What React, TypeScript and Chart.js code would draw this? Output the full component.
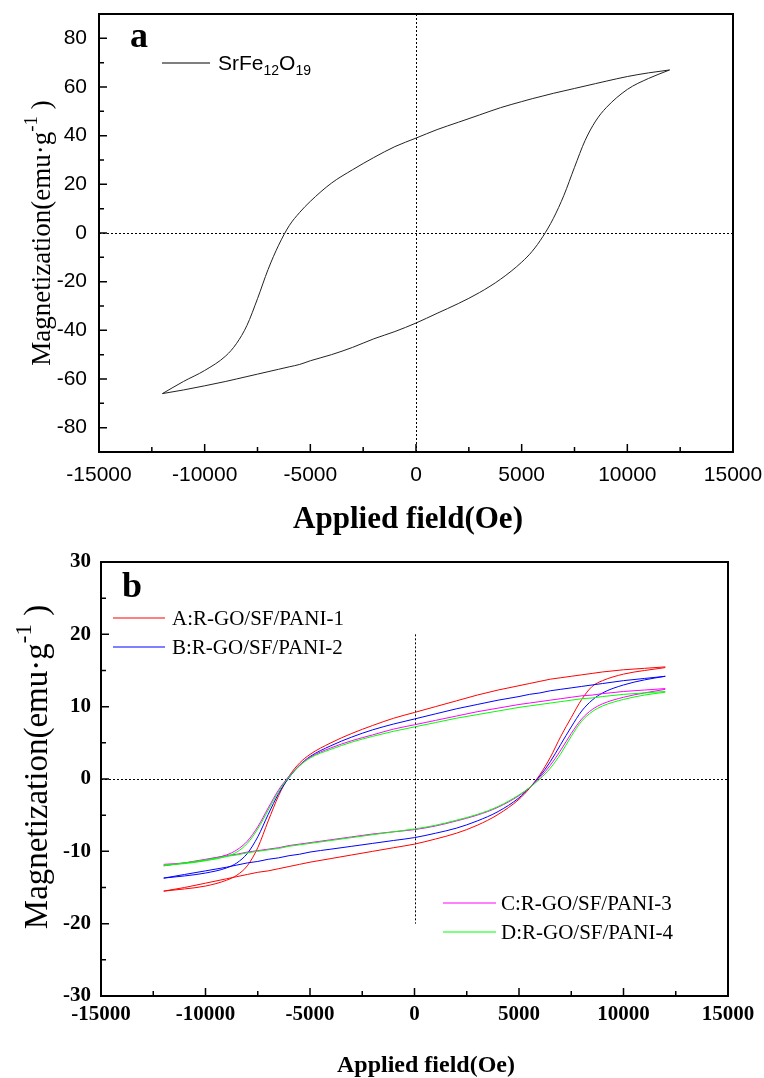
import React, { useEffect, useRef } from 'react';
import { Chart, registerables } from 'chart.js';

Chart.register(...registerables);

// ---------- Panel a : SrFe12O19 ----------
const fieldA = [-12000, -11000, -10000, -9000, -8500, -8000, -7500, -7000, -6500, -6000, -5500, -5000, -4000, -3000, -2000, -1000, 0, 1000, 2000, 3000, 4000, 5000, 5500, 6000, 6500, 7000, 7500, 8000, 8500, 9000, 10000, 11000, 12000];
const srfeUpper = [-66, -61, -56.5, -50.5, -45.5, -38, -27, -15, -5, 3, 8.5, 13, 20.5, 26, 31, 35.5, 39, 42.5, 45.5, 48.5, 51.5, 54, 55.2, 56.3, 57.4, 58.4, 59.4, 60.4, 61.4, 62.4, 64.3, 65.8, 67];
const srfeLower = [-66, -64.5, -62.8, -61, -60, -59, -58, -57, -56, -55, -54, -52.5, -50, -47, -43.5, -40.5, -37, -33, -29, -24.5, -19, -12, -7.5, -1.5, 6, 15.5, 27, 38, 46, 51.5, 59, 63.5, 67];

// ---------- Panel b : R-GO/SF/PANI ----------
const fieldB = [-12000, -11000, -10000, -9000, -8500, -8000, -7500, -7000, -6500, -6000, -5500, -5000, -4000, -3000, -2000, -1000, 0, 1000, 2000, 3000, 4000, 5000, 5500, 6000, 6500, 7000, 7500, 8000, 8500, 9000, 10000, 11000, 12000];
const aUpper = [-15.5, -15.2, -14.8, -14.0, -13.3, -12.0, -9.5, -5.8, -2.3, 0.4, 2.2, 3.4, 5.0, 6.3, 7.4, 8.4, 9.2, 10.0, 10.8, 11.6, 12.3, 12.9, 13.2, 13.5, 13.8, 14.0, 14.2, 14.4, 14.6, 14.8, 15.1, 15.3, 15.5];
const aLower = [-15.5, -15.0, -14.4, -13.8, -13.5, -13.2, -12.9, -12.7, -12.4, -12.1, -11.8, -11.5, -11.0, -10.5, -10.0, -9.5, -9.0, -8.3, -7.5, -6.4, -4.9, -2.8, -1.3, 0.6, 3.0, 5.9, 8.5, 11.0, 12.8, 13.6, 14.5, 15.0, 15.4];
const bUpper = [-13.7, -13.4, -13.0, -12.3, -11.6, -10.3, -8.0, -4.9, -2.0, 0.2, 1.9, 3.1, 4.6, 5.8, 6.8, 7.6, 8.3, 9.0, 9.7, 10.3, 10.9, 11.4, 11.7, 11.9, 12.2, 12.4, 12.6, 12.8, 13.0, 13.2, 13.6, 13.9, 14.2];
const bLower = [-13.7, -13.2, -12.7, -12.2, -11.9, -11.6, -11.4, -11.1, -10.9, -10.6, -10.4, -10.1, -9.7, -9.3, -8.9, -8.5, -8.1, -7.5, -6.8, -5.8, -4.5, -2.6, -1.2, 0.4, 2.4, 4.8, 7.2, 9.4, 10.9, 11.9, 13.0, 13.7, 14.2];
const cUpper = [-11.8, -11.6, -11.2, -10.5, -9.8, -8.6, -6.6, -4.0, -1.5, 0.4, 1.9, 3.0, 4.3, 5.3, 6.1, 6.9, 7.5, 8.1, 8.7, 9.3, 9.8, 10.3, 10.5, 10.7, 10.9, 11.1, 11.3, 11.5, 11.6, 11.8, 12.1, 12.3, 12.5];
const cLower = [-12.0, -11.6, -11.1, -10.6, -10.4, -10.1, -9.9, -9.7, -9.5, -9.2, -9.0, -8.8, -8.4, -8.0, -7.6, -7.3, -7.0, -6.5, -5.8, -5.0, -3.9, -2.3, -1.2, 0.2, 1.9, 4.0, 6.3, 8.3, 9.6, 10.4, 11.3, 11.9, 12.4];
const dUpper = [-11.9, -11.7, -11.3, -10.7, -10.1, -8.9, -6.9, -4.3, -1.7, 0.3, 1.8, 2.9, 4.1, 5.1, 5.9, 6.6, 7.2, 7.8, 8.4, 8.9, 9.4, 9.9, 10.1, 10.3, 10.5, 10.7, 10.9, 11.1, 11.2, 11.4, 11.7, 11.9, 12.1];
const dLower = [-12.0, -11.6, -11.2, -10.7, -10.5, -10.2, -10.0, -9.8, -9.6, -9.3, -9.1, -8.9, -8.5, -8.1, -7.7, -7.3, -6.9, -6.4, -5.7, -4.9, -3.8, -2.2, -1.2, 0.0, 1.5, 3.5, 5.9, 8.0, 9.3, 10.1, 11.0, 11.6, 12.0];

const seriesNamesB = ['A:R-GO/SF/PANI-1', 'B:R-GO/SF/PANI-2', 'C:R-GO/SF/PANI-3', 'D:R-GO/SF/PANI-4'];
const seriesColorsB = ['#ff0000', '#0000ff', '#ff00ff', '#00ff00'];

const xAxisTitle = 'Applied field(Oe)';
const yAxisTitle = 'Magnetization(emu·g';

type Run = { text: string; font: string; dy?: number };

function runsWidth(ctx: CanvasRenderingContext2D, runs: Run[]) {
  let w = 0;
  for (const r of runs) {
    ctx.font = r.font;
    w += ctx.measureText(r.text).width;
  }
  return w;
}

function drawRuns(ctx: CanvasRenderingContext2D, runs: Run[], x: number, y: number, align: 'left' | 'center') {
  const total = runsWidth(ctx, runs);
  let cx = align === 'center' ? x - total / 2 : x;
  ctx.textAlign = 'left';
  ctx.textBaseline = 'alphabetic';
  ctx.fillStyle = '#000';
  for (const r of runs) {
    ctx.font = r.font;
    ctx.fillText(r.text, cx, y + (r.dy || 0));
    cx += ctx.measureText(r.text).width;
  }
}

type LegendEntry = { color: string; x1: number; x2: number; y: number; tx: number; runs: Run[] };

type Deco = {
  xMinor: number;
  xMajor: number;
  yMinor: number;
  yMajor: number;
  vLineRange: [number, number] | null;
  panel: { text: string; font: string; x: number; y: number };
  legend: LegendEntry[];
  xTitle: { runs: Run[]; x: number; y: number };
  yTitle: { runs: Run[]; x: number; y: number };
};

function makePlugin(deco: Deco) {
  return {
    id: 'deco',
    beforeDatasetsDraw(chart: any) {
      const ctx: CanvasRenderingContext2D = chart.ctx;
      const { left, right, top, bottom } = chart.chartArea;
      const xs = chart.scales.x;
      const ys = chart.scales.y;
      ctx.save();
      ctx.strokeStyle = '#000';
      ctx.lineWidth = 1;
      ctx.setLineDash([2, 2]);
      const x0 = Math.round(xs.getPixelForValue(0)) + 0.5;
      const y0 = Math.round(ys.getPixelForValue(0)) + 0.5;
      let vy1 = top;
      let vy2 = bottom;
      if (deco.vLineRange) {
        vy1 = ys.getPixelForValue(deco.vLineRange[1]);
        vy2 = ys.getPixelForValue(deco.vLineRange[0]);
      }
      ctx.beginPath();
      ctx.moveTo(x0, vy1);
      ctx.lineTo(x0, vy2);
      ctx.moveTo(left, y0);
      ctx.lineTo(right, y0);
      ctx.stroke();
      ctx.restore();
    },
    afterDraw(chart: any) {
      const ctx: CanvasRenderingContext2D = chart.ctx;
      const { left, right, top, bottom } = chart.chartArea;
      const xs = chart.scales.x;
      const ys = chart.scales.y;
      ctx.save();
      ctx.setLineDash([]);
      ctx.strokeStyle = '#000';
      ctx.lineWidth = 2;
      ctx.strokeRect(left, top, right - left, bottom - top);
      // inward ticks
      ctx.lineWidth = 1.5;
      ctx.beginPath();
      for (let v = xs.min; v <= xs.max + 1e-6; v += deco.xMinor) {
        const p = xs.getPixelForValue(v);
        const major = Math.abs(v / deco.xMajor - Math.round(v / deco.xMajor)) < 1e-6;
        const len = major ? 8 : 5;
        ctx.moveTo(p, bottom);
        ctx.lineTo(p, bottom - len);
      }
      for (let v = ys.min; v <= ys.max + 1e-6; v += deco.yMinor) {
        const p = ys.getPixelForValue(v);
        const major = Math.abs(v / deco.yMajor - Math.round(v / deco.yMajor)) < 1e-6;
        const len = major ? 8 : 5;
        ctx.moveTo(left, p);
        ctx.lineTo(left + len, p);
      }
      ctx.stroke();

      // panel label
      ctx.font = deco.panel.font;
      ctx.fillStyle = '#000';
      ctx.textAlign = 'left';
      ctx.textBaseline = 'alphabetic';
      ctx.fillText(deco.panel.text, deco.panel.x, deco.panel.y);

      // legend
      for (const e of deco.legend) {
        ctx.strokeStyle = e.color;
        ctx.lineWidth = 1.2;
        ctx.beginPath();
        ctx.moveTo(e.x1, e.y);
        ctx.lineTo(e.x2, e.y);
        ctx.stroke();
        drawRuns(ctx, e.runs, e.tx, e.y + 7, 'left');
      }

      // axis titles
      drawRuns(ctx, deco.xTitle.runs, deco.xTitle.x, deco.xTitle.y, 'center');
      ctx.save();
      ctx.translate(deco.yTitle.x, deco.yTitle.y);
      ctx.rotate(-Math.PI / 2);
      drawRuns(ctx, deco.yTitle.runs, 0, 0, 'center');
      ctx.restore();
      ctx.restore();
    },
  };
}

function pts(xs: number[], ys: number[]) {
  return xs.map((x, i) => ({ x, y: ys[i] }));
}

function lineDs(data: { x: number; y: number }[], color: string, width = 1) {
  return {
    data,
    showLine: true,
    borderColor: color,
    backgroundColor: color,
    borderWidth: width,
    pointRadius: 0,
    cubicInterpolationMode: 'monotone' as const,
    fill: false,
  };
}

function fitX(h: number) {
  return (s: any) => {
    s.height = h;
    s.paddingLeft = 0;
    s.paddingRight = 0;
    s.paddingTop = 0;
    s.paddingBottom = 0;
  };
}

function fitY(w: number) {
  return (s: any) => {
    s.width = w;
    s.paddingLeft = 0;
    s.paddingRight = 0;
    s.paddingTop = 0;
    s.paddingBottom = 0;
  };
}

function TopChart() {
  const ref = useRef<HTMLCanvasElement>(null);
  useEffect(() => {
    if (!ref.current) return;
    const sans = 'Liberation Sans, Arial, sans-serif';
    const serif = 'Liberation Serif, Times New Roman, serif';
    const deco: Deco = {
      xMinor: 2500,
      xMajor: 5000,
      yMinor: 10,
      yMajor: 20,
      vLineRange: null,
      panel: { text: 'a', font: `bold 36px ${serif}`, x: 130, y: 47 },
      legend: [
        {
          color: '#000',
          x1: 162,
          x2: 210,
          y: 63,
          tx: 218,
          runs: [
            { text: 'SrFe', font: `21px ${sans}` },
            { text: '12', font: `14px ${sans}`, dy: 5 },
            { text: 'O', font: `21px ${sans}` },
            { text: '19', font: `14px ${sans}`, dy: 5 },
          ],
        },
      ],
      xTitle: { runs: [{ text: xAxisTitle, font: `bold 31px ${serif}` }], x: 408, y: 528 },
      yTitle: {
        runs: [
          { text: yAxisTitle, font: `27px ${serif}` },
          { text: '-1', font: `19px ${serif}`, dy: -13 },
          { text: ' )', font: `27px ${serif}` },
        ],
        x: 50,
        y: 233,
      },
    };
    const chart = new Chart(ref.current, {
      type: 'scatter',
      data: {
        datasets: [
          lineDs(pts(fieldA, srfeUpper), '#222'),
          lineDs(pts(fieldA, srfeLower), '#222'),
        ],
      },
      options: {
        animation: false,
        responsive: false,
        devicePixelRatio: 1,
        layout: { autoPadding: false, padding: { left: 0, top: 14, right: 31, bottom: 0 } },
        plugins: { legend: { display: false }, tooltip: { enabled: false } },
        scales: {
          x: {
            type: 'linear',
            min: -15000,
            max: 15000,
            ticks: {
              stepSize: 5000,
              autoSkip: false,
              maxRotation: 0,
              padding: 11,
              color: '#000',
              font: { family: sans, size: 21 },
              callback: (v: any) => String(v),
            },
            grid: { display: false, drawTicks: false },
            border: { display: false },
            afterFit: fitX(83),
          },
          y: {
            type: 'linear',
            min: -90,
            max: 90,
            ticks: {
              stepSize: 10,
              autoSkip: false,
              padding: 12,
              color: '#000',
              font: { family: sans, size: 21 },
              callback: (v: any) => (v % 20 === 0 && Math.abs(v) <= 80 ? String(v) : ''),
            },
            grid: { display: false, drawTicks: false },
            border: { display: false },
            afterFit: fitY(99),
          },
        },
      },
      plugins: [makePlugin(deco)],
    } as any);
    return () => chart.destroy();
  }, []);
  return <canvas ref={ref} width={764} height={535} style={{ position: 'absolute', left: 0, top: 0 }} />;
}

function BottomChart() {
  const ref = useRef<HTMLCanvasElement>(null);
  useEffect(() => {
    if (!ref.current) return;
    const serif = 'Liberation Serif, Times New Roman, serif';
    const lf = `21px ${serif}`;
    const deco: Deco = {
      xMinor: 2500,
      xMajor: 5000,
      yMinor: 5,
      yMajor: 10,
      vLineRange: [-20, 20],
      panel: { text: 'b', font: `bold 36px ${serif}`, x: 122, y: 62 },
      legend: [
        { color: seriesColorsB[0], x1: 113, x2: 165, y: 83, tx: 172, runs: [{ text: seriesNamesB[0], font: lf }] },
        { color: seriesColorsB[1], x1: 113, x2: 165, y: 112, tx: 172, runs: [{ text: seriesNamesB[1], font: lf }] },
        { color: seriesColorsB[2], x1: 443, x2: 496, y: 368, tx: 501, runs: [{ text: seriesNamesB[2], font: lf }] },
        { color: seriesColorsB[3], x1: 443, x2: 496, y: 397, tx: 501, runs: [{ text: seriesNamesB[3], font: lf }] },
      ],
      xTitle: { runs: [{ text: xAxisTitle, font: `bold 24px ${serif}` }], x: 426, y: 537 },
      yTitle: {
        runs: [
          { text: yAxisTitle, font: `33px ${serif}` },
          { text: '-1', font: `23px ${serif}`, dy: -16 },
          { text: ' )', font: `33px ${serif}` },
        ],
        x: 47,
        y: 232,
      },
    };
    const datasets: any[] = [];
    const ups = [aUpper, bUpper, cUpper, dUpper];
    const lows = [aLower, bLower, cLower, dLower];
    for (let i = 3; i >= 0; i--) {
      datasets.push(lineDs(pts(fieldB, ups[i]), seriesColorsB[i]));
      datasets.push(lineDs(pts(fieldB, lows[i]), seriesColorsB[i]));
    }
    const chart = new Chart(ref.current, {
      type: 'scatter',
      data: { datasets },
      options: {
        animation: false,
        responsive: false,
        devicePixelRatio: 1,
        layout: { autoPadding: false, padding: { left: 0, top: 27, right: 36, bottom: 0 } },
        plugins: { legend: { display: false }, tooltip: { enabled: false } },
        scales: {
          x: {
            type: 'linear',
            min: -15000,
            max: 15000,
            ticks: {
              stepSize: 5000,
              autoSkip: false,
              maxRotation: 0,
              padding: 6,
              color: '#000',
              font: { family: serif, size: 21, weight: 'bold' },
              callback: (v: any) => String(v),
            },
            grid: { display: false, drawTicks: false },
            border: { display: false },
            afterFit: fitX(82),
          },
          y: {
            type: 'linear',
            min: -30,
            max: 30,
            ticks: {
              stepSize: 5,
              autoSkip: false,
              padding: 10,
              color: '#000',
              font: { family: serif, size: 21, weight: 'bold' },
              callback: (v: any) => (v % 10 === 0 ? String(v) : ''),
            },
            grid: { display: false, drawTicks: false },
            border: { display: false },
            afterFit: fitY(101),
          },
        },
      },
      plugins: [makePlugin(deco)],
    } as any);
    return () => chart.destroy();
  }, []);
  return <canvas ref={ref} width={764} height={543} style={{ position: 'absolute', left: 0, top: 535 }} />;
}

export default function App() {
  return (
    <div style={{ position: 'absolute', left: 0, top: 0, width: 764, height: 1078, background: '#fff', overflow: 'hidden' }}>
      <TopChart />
      <BottomChart />
    </div>
  );
}
